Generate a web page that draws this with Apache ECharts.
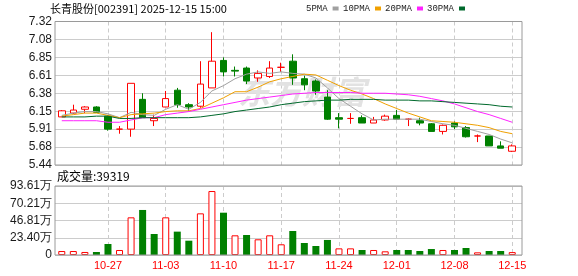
<!DOCTYPE html>
<html><head><meta charset="utf-8">
<script src="https://cdn.jsdelivr.net/npm/echarts@6/dist/echarts.min.js"></script>
<style>html,body{margin:0;padding:0;background:#fff}#c{width:578px;height:276px}</style>
</head><body><div id="c"></div>
<script>
const titleText = '长青股份[002391] 2025-12-15 15:00';
const volTitleText = '成交量:39319';
const dates = ['10-21','10-22','10-23','10-24','10-27','10-28','10-29','10-30','10-31','11-03','11-04','11-05','11-06','11-07','11-10','11-11','11-12','11-13','11-14','11-17','11-18','11-19','11-20','11-21','11-24','11-25','11-26','11-27','11-28','12-01','12-02','12-03','12-04','12-05','12-08','12-09','12-10','12-11','12-12','12-15'];
const opens  = [6.07,6.12,6.17,6.20,6.08,5.91,5.91,6.30,6.02,6.20,6.42,6.23,6.21,6.45,6.81,6.68,6.71,6.58,6.60,6.72,6.80,6.57,6.54,6.33,6.06,6.05,6.06,5.99,6.03,6.09,6.04,6.02,5.98,5.88,5.99,5.93,5.82,5.82,5.69,5.62];
const closes = [6.15,6.16,6.20,6.13,5.91,5.91,6.51,6.06,6.05,6.31,6.23,6.20,6.50,6.80,6.66,6.67,6.54,6.64,6.71,6.72,6.58,6.49,6.41,6.04,6.04,6.05,5.99,6.03,6.08,6.04,6.04,5.99,5.88,5.96,5.94,5.81,5.82,5.69,5.66,5.69];
const lows   = [6.07,6.11,6.12,6.13,5.89,5.85,5.81,6.06,5.95,6.20,6.19,6.15,6.19,6.45,6.60,6.60,6.50,6.53,6.58,6.66,6.49,6.42,6.36,6.03,5.92,5.98,5.99,5.99,6.02,6.04,5.95,5.96,5.88,5.84,5.91,5.80,5.74,5.69,5.66,5.61];
const highs  = [6.16,6.23,6.21,6.21,6.09,5.95,6.51,6.38,6.10,6.41,6.45,6.25,6.80,7.18,6.85,6.73,6.73,6.68,6.80,6.78,6.89,6.61,6.56,6.42,6.12,6.12,6.09,6.07,6.10,6.16,6.05,6.06,5.99,5.97,6.01,5.95,5.84,5.82,5.75,5.71];
const ma5  = [6.09,6.12,6.14,6.14,6.11,6.06,6.13,6.10,6.09,6.17,6.23,6.17,6.26,6.41,6.48,6.57,6.63,6.66,6.64,6.66,6.64,6.63,6.58,6.45,6.31,6.21,6.11,6.03,6.04,6.04,6.04,6.04,6.01,5.98,5.96,5.92,5.88,5.84,5.78,5.73];
const ma10 = [6.08,6.10,6.12,6.12,6.09,6.06,6.10,6.11,6.12,6.14,6.15,6.15,6.18,6.25,6.32,6.40,6.40,6.46,6.53,6.57,6.60,6.63,6.62,6.55,6.48,6.42,6.37,6.31,6.24,6.18,6.12,6.07,6.02,6.01,6.00,5.98,5.96,5.93,5.88,5.85];
const ma20 = [6.02,6.02,6.02,6.02,6.00,6.00,6.03,6.06,6.06,6.10,6.12,6.14,6.17,6.20,6.23,6.26,6.29,6.31,6.33,6.35,6.37,6.38,6.39,6.39,6.39,6.39,6.38,6.38,6.38,6.37,6.36,6.34,6.31,6.28,6.24,6.19,6.14,6.10,6.05,6.00];
const ma30 = [6.07,6.07,6.07,6.08,6.08,6.05,6.05,6.06,6.06,6.06,6.06,6.06,6.07,6.09,6.11,6.14,6.16,6.18,6.20,6.23,6.25,6.27,6.28,6.29,6.29,6.30,6.30,6.30,6.29,6.29,6.29,6.28,6.28,6.27,6.26,6.25,6.24,6.23,6.21,6.20];
const volumes = [5.4,5.4,4.1,4.1,14.9,6.8,51.1,61.1,28.5,51.1,31.7,19.4,56.5,86.8,57.4,26.7,27.1,21.3,26.7,14.5,32.6,16.3,12.2,20.4,9.0,9.0,6.8,6.8,5.0,6.8,6.8,5.4,8.1,6.8,6.8,9.5,3.6,5.4,5.4,3.93];
const volUp = [1,1,1,0,0,1,1,0,0,1,0,0,1,1,0,1,0,1,1,1,0,0,0,0,1,1,0,1,1,0,0,0,0,1,0,0,1,0,0,1];
const priceTicks = ['5.44','5.68','5.91','6.15','6.38','6.61','6.85','7.08','7.32'];
const volTicks = ['0','23.40万','46.81万','70.21万','93.61万'];
const priceMin = 5.44, priceMax = 7.32, volMax = 93.61;
const maNames = ['5PMA','10PMA','20PMA','30PMA'];
const maColors = ['#a0a0a0','#f0a000','#ff22ff','#00692c'];
const maData = [ma5, ma10, ma20, ma30];
const legendLefts = [306, 343, 385, 427];

const RED = '#ff0000', GREEN = '#008000';
const isMonday = (i) => i >= 4 && (i - 4) % 5 === 0;
const chart = echarts.init(document.getElementById('c'), null, {renderer: 'canvas'});

const axisFont = {fontFamily: 'Liberation Sans', fontSize: 12, color: '#1a1a1a'};
const dashed = {show: true, interval: (i) => isMonday(i), alignWithLabel: true, lineStyle: {color: '#cccccc', type: [4, 3], width: 1}};

const option = {
  backgroundColor: '#ffffff',
  animation: false,
  title: [
    {text: titleText, left: 50, top: 3, padding: 0, textStyle: {fontFamily: 'Noto Sans CJK SC', fontSize: 11, fontWeight: 'normal', color: '#000'}},
    {text: volTitleText, left: 57, top: 170, padding: 0, textStyle: {fontFamily: 'Noto Sans CJK SC', fontSize: 12, fontWeight: 'normal', color: '#000'}}
  ],
  legend: maNames.map((n, k) => ({
    data: [n], left: legendLefts[k], top: 4, padding: 0, icon: 'rect', itemWidth: 6, itemHeight: 4,
    align: 'right', selectedMode: false,
    textStyle: {fontFamily: 'Liberation Mono', fontSize: 9, color: '#222'}
  })),
  graphic: [{
    type: 'text', left: 238, top: 76, z: 1, silent: true,
    style: {text: '东方财富', fontFamily: 'Noto Sans CJK SC', fontSize: 32, fontWeight: 'bold', fontStyle: 'italic', fill: '#e2e2e2'}
  }],
  grid: [
    {left: 55, top: 21.5, width: 467, height: 143.5, show: true, borderColor: '#9a9a9a', borderWidth: 1, backgroundColor: 'transparent', z: 4},
    {left: 56, top: 21.5, width: 462, height: 143.5},
    {left: 55, top: 186, width: 467, height: 69, show: true, borderColor: '#9a9a9a', borderWidth: 1, backgroundColor: 'transparent', z: 4},
    {left: 56, top: 186, width: 462, height: 69}
  ],
  xAxis: [
    {gridIndex: 0, type: 'value', min: 0, max: 1, show: false},
    {gridIndex: 1, type: 'category', data: dates, boundaryGap: true, axisLine: {show: false}, axisTick: {show: false}, axisLabel: {show: false}, splitLine: dashed},
    {gridIndex: 2, type: 'value', min: 0, max: 1, show: false},
    {gridIndex: 3, type: 'category', data: dates, boundaryGap: true, axisLine: {show: false}, axisTick: {show: false},
      axisLabel: {show: true, interval: (i) => isMonday(i), margin: 5, fontFamily: 'Liberation Sans', fontSize: 11, color: RED}, splitLine: dashed}
  ],
  yAxis: [
    {gridIndex: 0, type: 'value', min: 0, max: 8, interval: 1, axisLine: {show: false}, axisTick: {show: false},
      axisLabel: Object.assign({margin: 3, formatter: (v) => priceTicks[v]}, axisFont), splitLine: {lineStyle: {color: '#cccccc', width: 1}}},
    {gridIndex: 1, type: 'value', min: priceMin, max: priceMax, show: false, splitLine: {show: false}},
    {gridIndex: 2, type: 'value', min: 0, max: 4, interval: 1, axisLine: {show: false}, axisTick: {show: false},
      axisLabel: Object.assign({margin: 3, formatter: (v) => volTicks[v]}, axisFont), splitLine: {lineStyle: {color: '#cccccc', width: 1}}},
    {gridIndex: 3, type: 'value', min: 0, max: volMax, show: false, splitLine: {show: false}}
  ],
  series: [
    {
      name: 'K', type: 'candlestick', xAxisIndex: 1, yAxisIndex: 1, barWidth: 7, z: 2,
      data: dates.map((d, i) => [opens[i], closes[i], lows[i], highs[i]]),
      itemStyle: {color: '#ffffff', color0: GREEN, borderColor: RED, borderColor0: GREEN, borderWidth: 1}
    },
    ...maNames.map((n, k) => ({
      name: n, type: 'line', xAxisIndex: 1, yAxisIndex: 1, data: maData[k], showSymbol: false, symbol: 'none', z: 3,
      itemStyle: {color: maColors[k]}, lineStyle: {color: maColors[k], width: 1}
    })),
    {
      name: 'VOL', type: 'bar', xAxisIndex: 3, yAxisIndex: 3, barWidth: 7, z: 2,
      data: volumes.map((v, i) => ({value: v, itemStyle: volUp[i] ? {color: '#ffffff', borderColor: RED, borderWidth: 1} : {color: GREEN}}))
    }
  ]
};
chart.setOption(option);
</script></body></html>
